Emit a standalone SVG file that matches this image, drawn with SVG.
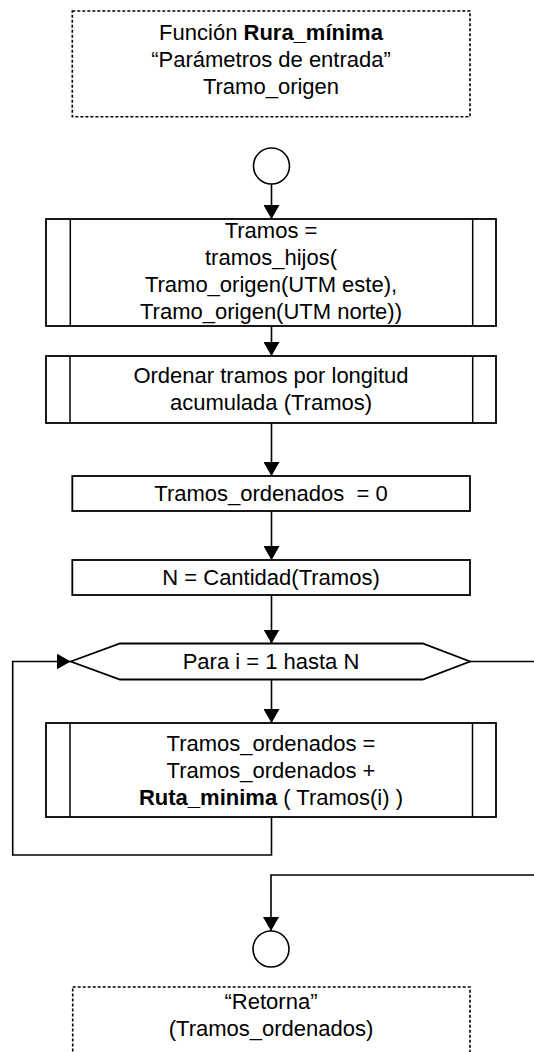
<svg xmlns="http://www.w3.org/2000/svg" width="534" height="1052" viewBox="0 0 534 1052">
  <style>
    text { font-family: "Liberation Sans", Arial, sans-serif; font-size: 22px; fill: #000; text-anchor: middle; }
    .b { font-weight: bold; }
    .box { fill: #fff; stroke: #000; stroke-width: 1.8; }
    .div { fill: none; stroke: #000; stroke-width: 1.5; }
    .note { fill: #fff; stroke: #000; stroke-width: 1.6; stroke-dasharray: 3 2; }
    .wire { fill: none; stroke: #000; stroke-width: 1.6; }
    .arr { marker-end: url(#head); }
  </style>
  <defs>
    <marker id="head" markerUnits="userSpaceOnUse" markerWidth="14" markerHeight="16" refX="14" refY="8" orient="auto">
      <path d="M0,0 L14,8 L0,16 z" fill="#000"/>
    </marker>
  </defs>

  <!-- connectors -->
  <g id="connectors">
    <line class="wire arr" x1="271.5" y1="184" x2="271.5" y2="219"/>
    <line class="wire arr" x1="271.5" y1="326" x2="271.5" y2="356"/>
    <line class="wire arr" x1="271.5" y1="423" x2="271.5" y2="476"/>
    <line class="wire arr" x1="271.5" y1="511" x2="271.5" y2="560"/>
    <line class="wire arr" x1="271.5" y1="595" x2="271.5" y2="643.5"/>
    <line class="wire arr" x1="271.5" y1="679.5" x2="271.5" y2="723"/>
    <!-- loop back to the for-header -->
    <polyline class="wire arr" points="271.5,817 271.5,855 12.7,855 12.7,661.5 70.7,661.5"/>
    <!-- loop exit -->
    <line class="wire" x1="470" y1="661.5" x2="534" y2="661.5"/>
    <polyline class="wire arr" points="534,875 271,875 271,931"/>
  </g>

  <!-- header note -->
  <g id="header">
    <rect class="note" x="72.3" y="11" width="397.7" height="105.7"/>
    <text x="271" y="40">Función <tspan class="b">Rura_mínima</tspan></text>
    <text x="271" y="67">“Parámetros de entrada”</text>
    <text x="271" y="94">Tramo_origen</text>
  </g>

  <g id="start">
    <circle cx="271.5" cy="166" r="18" fill="#fff" stroke="#000" stroke-width="1.6"/>
  </g>

  <g id="tramos-hijos">
    <rect class="box" x="46" y="219" width="450" height="107"/>
    <line class="div" x1="70.3" y1="219" x2="70.3" y2="326"/>
    <line class="div" x1="472.7" y1="219" x2="472.7" y2="326"/>
    <text x="271" y="238">Tramos =</text>
    <text x="271" y="265">tramos_hijos(</text>
    <text x="271" y="292">Tramo_origen(UTM este),</text>
    <text x="271" y="319">Tramo_origen(UTM norte))</text>
  </g>

  <g id="ordenar">
    <rect class="box" x="46" y="356" width="450" height="67"/>
    <line class="div" x1="70" y1="356" x2="70" y2="423"/>
    <line class="div" x1="472.7" y1="356" x2="472.7" y2="423"/>
    <text x="271" y="383">Ordenar tramos por longitud</text>
    <text x="271" y="410">acumulada (Tramos)</text>
  </g>

  <g id="init">
    <rect class="box" x="72.3" y="476" width="397.7" height="35"/>
    <text x="271" y="501" xml:space="preserve">Tramos_ordenados  = 0</text>
  </g>

  <g id="cantidad">
    <rect class="box" x="72.3" y="560" width="397.7" height="35"/>
    <text x="271" y="585">N = Cantidad(Tramos)</text>
  </g>

  <g id="para">
    <polygon class="box" points="70.7,661.5 120,643.5 422.7,643.5 470,661.5 422.7,679.5 120,679.5"/>
    <text x="271" y="669">Para i = 1 hasta N</text>
  </g>

  <g id="acumular">
    <rect class="box" x="46" y="723" width="450" height="94"/>
    <line class="div" x1="70" y1="723" x2="70" y2="817"/>
    <line class="div" x1="472.5" y1="723" x2="472.5" y2="817"/>
    <text x="271" y="751">Tramos_ordenados =</text>
    <text x="271" y="778">Tramos_ordenados +</text>
    <text x="271" y="805"><tspan class="b">Ruta_minima</tspan> ( Tramos(i) )</text>
  </g>

  <g id="end">
    <circle cx="271" cy="949" r="18" fill="#fff" stroke="#000" stroke-width="1.6"/>
  </g>

  <g id="retorno">
    <rect class="note" x="72.7" y="987" width="397.3" height="80"/>
    <text x="271" y="1009">“Retorna”</text>
    <text x="271" y="1036">(Tramos_ordenados)</text>
  </g>
</svg>
